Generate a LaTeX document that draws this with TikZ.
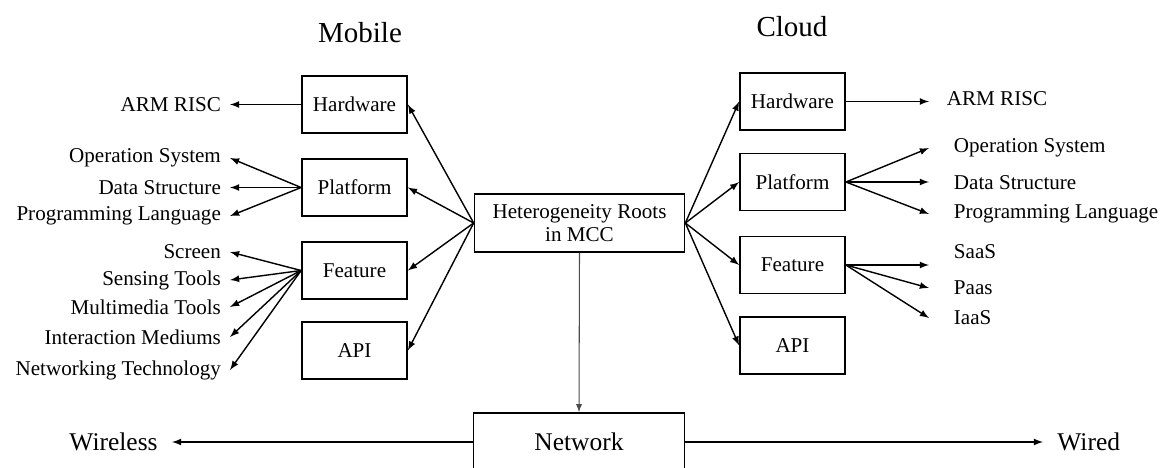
\documentclass[tikz,border=0pt]{standalone}
\usepackage{fontspec}
\setmainfont{Liberation Serif}
\usetikzlibrary{arrows}
\tikzset{>=latex}
\tikzstyle{block}=[rectangle,draw,line width=1pt,minimum width=2.1cm,minimum height=1.14cm,inner sep=1mm]
\tikzstyle{title}=[font=\fontsize{16.5}{18}\selectfont]
\tikzstyle{llab}=[anchor=east,inner xsep=5pt,inner ysep=1pt]
\tikzstyle{rlab}=[anchor=west,inner xsep=14pt,inner ysep=1pt]
\tikzstyle{link}=[->,thick]

\begin{document}
\begin{tikzpicture}[x=0.02cm,y=-0.02cm,font=\fontsize{12}{13}\selectfont]
	\def \mobx {354.5};
	\def \cloudx {792.5};
	\def \llabx {230};
	\def \rlabx {929};
	\useasboundingbox (0,0) rectangle (1170,467);
	
	\node[title] (mobile) at (360,33) {Mobile};
	\node[title] (cloud) at (792,27) {Cloud};
	
	\node[block, minimum width=4.2cm, minimum height=1.16cm, align=center] (root) at (579.5,223) {Heterogeneity Roots\\in MCC};
	\node[block, minimum width=4.22cm, minimum height=1.16cm, font=\fontsize{14.5}{16}\selectfont] (net) at (579,442) {Network};
	
	% mobile side
	\node[block] (mhw) at (\mobx,104.5) {Hardware};
	\node[block] (mplat) at (\mobx,187.5) {Platform};
	\node[block] (mfeat) at (\mobx,270.5) {Feature};
	\node[block] (mapi) at (\mobx,350.5) {API};
	
	\node[llab] (marm) at (\llabx,105) {ARM RISC};
	\node[llab] (mos) at (\llabx,158) {Operation System};
	\node[llab] (mds) at (\llabx,188) {Data Structure};
	\node[llab] (mpl) at (\llabx,216) {Programming Language};
	\node[llab] (mscr) at (\llabx,252) {Screen};
	\node[llab] (msens) at (\llabx,280) {Sensing Tools};
	\node[llab] (mmm) at (\llabx,307) {Multimedia Tools};
	\node[llab] (mint) at (\llabx,337) {Interaction Mediums};
	\node[llab] (mnet) at (\llabx,370) {Networking Technology};
	
	% cloud side
	\node[block] (chw) at (\cloudx,101.5) {Hardware};
	\node[block] (cplat) at (\cloudx,182) {Platform};
	\node[block] (cfeat) at (\cloudx,265) {Feature};
	\node[block] (capi) at (\cloudx,345.5) {API};
	
	\node[rlab, inner xsep=10pt] (carm) at (\rlabx,99) {ARM RISC};
	\node[rlab] (cos) at (\rlabx,148) {Operation System};
	\node[rlab] (cds) at (\rlabx,183) {Data Structure};
	\node[rlab] (cpl) at (\rlabx,214) {Programming Language};
	\node[rlab] (csaas) at (\rlabx,252) {SaaS};
	\node[rlab] (cpaas) at (\rlabx,288) {Paas};
	\node[rlab] (ciaas) at (\rlabx,318) {IaaS};
	
	\node[llab, inner xsep=8pt, font=\fontsize{14.5}{16}\selectfont] (wless) at (172,442) {Wireless};
	\node[rlab, inner xsep=8pt, font=\fontsize{14.5}{16}\selectfont] (wired) at (1043,442) {Wired};
	
	% root links
	\draw[link] (root.west) -- (mhw.east);
	\draw[link] (root.west) -- (mplat.east);
	\draw[link] (root.west) -- (mfeat.east);
	\draw[link] (root.west) -- (mapi.east);
	\draw[link] (root.east) -- (chw.west);
	\draw[link] (root.east) -- (cplat.west);
	\draw[link] (root.east) -- (cfeat.west);
	\draw[link] (root.east) -- (capi.west);
	\draw[->, semithick, draw=gray!60!black] (root.south) -- (net.north);
	
	\draw[link] (mhw.west) -- (marm.east |- mhw.west);
	\draw[link] (mplat.west) -- (mos.east);
	\draw[link] (mplat.west) -- (mds.east |- mplat.west);
	\draw[link] (mplat.west) -- (mpl.east);
	\draw[link] (mfeat.west) -- (mscr.east);
	\draw[link] (mfeat.west) -- (msens.east);
	\draw[link] (mfeat.west) -- (mmm.east);
	\draw[link] (mfeat.west) -- (mint.east);
	\draw[link] (mfeat.west) -- (mnet.east);
	
	\draw[link] (chw.east) -- (carm.west |- chw.east);
	\draw[link] (cplat.east) -- (cos.west);
	\draw[link] (cplat.east) -- (cds.west |- cplat.east);
	\draw[link] (cplat.east) -- (cpl.west);
	\draw[link] (cfeat.east) -- (csaas.west |- cfeat.east);
	\draw[link] (cfeat.east) -- (cpaas.west);
	\draw[link] (cfeat.east) -- (ciaas.west);
	
	\draw[link] (net.west) -- (wless.east);
	\draw[link] (net.east) -- (wired.west);
\end{tikzpicture}
\end{document}
